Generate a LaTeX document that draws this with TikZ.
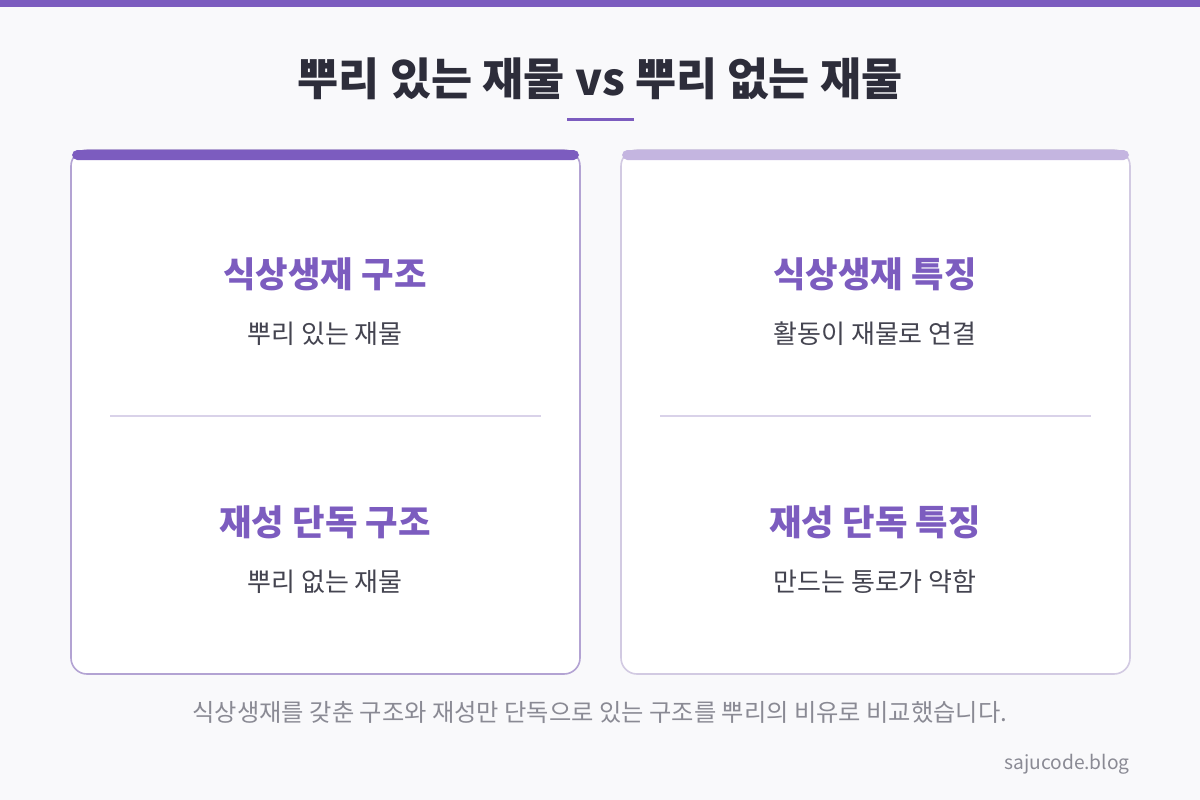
\documentclass[tikz,border=0pt]{standalone}
\usepackage{fontspec}
\setmainfont{Noto Sans CJK KR}
\usetikzlibrary{positioning}
\definecolor{bgcol}{HTML}{F9F9FB}
\definecolor{violet}{HTML}{7C5CBF}
\definecolor{lilac}{HTML}{C4B5E0}
\definecolor{edgeA}{HTML}{B3A3D3}
\definecolor{edgeB}{HTML}{D2CAE2}
\definecolor{rulecol}{HTML}{D9D2E9}
\definecolor{inkcol}{HTML}{2D2D3A}
\definecolor{subcol}{HTML}{444450}
\definecolor{capcol}{HTML}{8A8A94}

\begin{document}
\begin{tikzpicture}[x=0.75pt, y=-0.75pt,
        head/.style={text=violet, font=\fontsize{26.5}{31}\selectfont\bfseries},
        sub/.style={text=subcol, font=\fontsize{19.5}{23}\selectfont}]
        \fill[bgcol] (0,0) rectangle (1200,800);
        \useasboundingbox (0,0) rectangle (1200,800);
        \fill[violet] (0,0) rectangle (1200,7);
        \node (title) at (600,79) {\fontsize{33.5}{40}\selectfont\bfseries\color{inkcol}뿌리 있는 재물 vs 뿌리 없는 재물};
        \fill[violet] (567,118) rectangle (634,121);
        % left card
        \draw[edgeA, line width=1.2pt, fill=white, rounded corners=12pt] (71,150) rectangle (580,674);
        \fill[violet, rounded corners=4pt] (72,150) rectangle (579,160);
        \draw[rulecol, line width=0.9pt] (110,416) -- (541,416);
        \node[head] (lhead1) at (325,274) {식상생재 구조};
        \node[sub] (lsub1) at (325,334) {뿌리 있는 재물};
        \node[head] (lhead2) at (325,522) {재성 단독 구조};
        \node[sub] (lsub2) at (325,582) {뿌리 없는 재물};
        % right card
        \draw[edgeB, line width=1.2pt, fill=white, rounded corners=12pt] (621,150) rectangle (1130,674);
        \fill[lilac, rounded corners=4pt] (622,150) rectangle (1129,160);
        \draw[rulecol, line width=0.9pt] (660,416) -- (1091,416);
        \node[head] (rhead1) at (875,274) {식상생재 특징};
        \node[sub] (rsub1) at (875,334) {활동이 재물로 연결};
        \node[head] (rhead2) at (875,522) {재성 단독 특징};
        \node[sub] (rsub2) at (875,582) {만드는 통로가 약함};
        % notes
        \node[text=capcol, font=\fontsize{18.2}{22}\selectfont] (caption) at (600,712) {식상생재를 갖춘 구조와 재성만 단독으로 있는 구조를 뿌리의 비유로 비교했습니다.};
        \node[text=capcol, font=\fontsize{14.4}{17}\selectfont, anchor=east, inner sep=0pt] (site) at (1130,764) {sajucode.blog};
\end{tikzpicture}
\end{document}
